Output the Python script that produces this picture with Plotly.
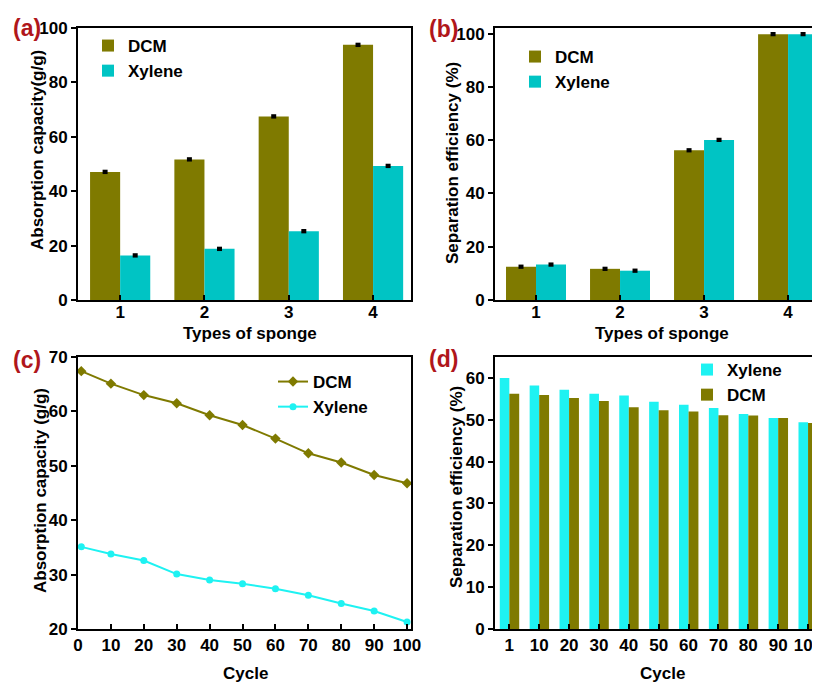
import plotly.graph_objects as go

# ---------------- data ----------------
sponge_types = [1, 2, 3, 4]
abs_dcm = [47.1, 51.7, 67.5, 93.8]
abs_xylene = [16.4, 18.8, 25.3, 49.3]
abs_err_dcm = [0.8, 0.8, 0.8, 0.8]
abs_err_xylene = [0.8, 0.8, 0.8, 0.8]

sep_dcm = [12.5, 11.7, 56.2, 99.8]
sep_xylene = [13.3, 11.0, 60.1, 99.8]
sep_err_dcm = [0.8, 0.8, 0.8, 0.8]
sep_err_xylene = [0.8, 0.8, 0.8, 0.8]

cycles_c = [1, 10, 20, 30, 40, 50, 60, 70, 80, 90, 100]
cyc_dcm = [67.4, 65.1, 63.0, 61.5, 59.3, 57.5, 55.0, 52.3, 50.6, 48.3, 46.8]
cyc_xylene = [35.1, 33.8, 32.6, 30.1, 29.0, 28.3, 27.4, 26.2, 24.7, 23.3, 21.3]

cycle_labels_d = ["1", "10", "20", "30", "40", "50", "60", "70", "80", "90", "100"]
eff_xylene = [60.0, 58.2, 57.2, 56.2, 55.8, 54.3, 53.6, 52.8, 51.4, 50.4, 49.4]
eff_dcm = [56.2, 55.9, 55.2, 54.5, 53.0, 52.3, 52.0, 51.1, 51.0, 50.4, 49.2]

# ---------------- style ----------------
OLIVE = "#7f7a00"
TEAL = "#00c4c4"
CYAN = "#1ef2f2"
RED = "#b0161b"
FONT = "Arial, Liberation Sans, sans-serif"
PAGE_OFF = 8          # default body margin of the page
FW, FH = 812, 674     # figure size so that figure + offset fills the 820x682 window

def px_x(p):
    return (p - PAGE_OFF) / FW

def px_y(p):
    return 1 - (p - PAGE_OFF) / FH

fig = go.Figure()

err_style = dict(type="data", color="black", thickness=5, width=0)

# (a)
fig.add_trace(go.Bar(x=sponge_types, y=abs_dcm, name="DCM", marker=dict(color=OLIVE, line_width=0),
                     width=0.357, offset=-0.357, error_y=dict(array=abs_err_dcm, **err_style),
                     xaxis="x", yaxis="y", legend="legend"))
fig.add_trace(go.Bar(x=sponge_types, y=abs_xylene, name="Xylene", marker=dict(color=TEAL, line_width=0),
                     width=0.357, offset=0, error_y=dict(array=abs_err_xylene, **err_style),
                     xaxis="x", yaxis="y", legend="legend"))
# (b)
fig.add_trace(go.Bar(x=sponge_types, y=sep_dcm, name="DCM", marker=dict(color=OLIVE, line_width=0),
                     width=0.357, offset=-0.357, error_y=dict(array=sep_err_dcm, **err_style),
                     xaxis="x2", yaxis="y2", legend="legend2"))
fig.add_trace(go.Bar(x=sponge_types, y=sep_xylene, name="Xylene", marker=dict(color=TEAL, line_width=0),
                     width=0.357, offset=0, error_y=dict(array=sep_err_xylene, **err_style),
                     xaxis="x2", yaxis="y2", legend="legend2"))
# (c)
fig.add_trace(go.Scatter(x=cycles_c, y=cyc_dcm, name="DCM", mode="lines+markers",
                         line=dict(color=OLIVE, width=2), marker=dict(symbol="diamond", size=8, color=OLIVE),
                         xaxis="x3", yaxis="y3", legend="legend3"))
fig.add_trace(go.Scatter(x=cycles_c, y=cyc_xylene, name="Xylene", mode="lines+markers",
                         line=dict(color=CYAN, width=2), marker=dict(symbol="circle", size=7, color=CYAN),
                         xaxis="x3", yaxis="y3", legend="legend3"))
# (d)
fig.add_trace(go.Bar(x=cycle_labels_d, y=eff_xylene, name="Xylene", marker=dict(color=CYAN, line_width=0),
                     width=0.32, offset=-0.32, xaxis="x4", yaxis="y4", legend="legend4"))
fig.add_trace(go.Bar(x=cycle_labels_d, y=eff_dcm, name="DCM", marker=dict(color=OLIVE, line_width=0),
                     width=0.33, offset=0, xaxis="x4", yaxis="y4", legend="legend4"))

tickfont = dict(family=FONT, size=17, color="black", weight="bold")
titlefont = dict(family=FONT, size=17, color="black", weight="bold")

def xax(domain, rng, anchor, **kw):
    d = dict(domain=domain, range=rng, anchor=anchor, showline=True, linecolor="black", linewidth=2,
             mirror=True, ticks="inside", ticklen=5, tickwidth=2, tickcolor="black",
             showgrid=False, zeroline=False, tickfont=tickfont, automargin=False)
    d.update(kw)
    return d

def yax(domain, rng, anchor, mirror, **kw):
    d = dict(domain=domain, range=rng, anchor=anchor, showline=True, linecolor="black", linewidth=2,
             mirror=mirror, ticks="outside", ticklen=5, tickwidth=2, tickcolor="black",
             showgrid=False, zeroline=False, tickfont=tickfont, automargin=False)
    d.update(kw)
    return d

top_ab, bot_ab = px_y(28), px_y(300)
top_cd, bot_cd = px_y(357), px_y(629)
left_ac, right_ac = px_x(78), px_x(411)
left_bd = px_x(495)

legfont = dict(family=FONT, size=17, color="black", weight="bold")

fig.update_layout(
    width=FW, height=FH, margin=dict(l=0, r=0, t=0, b=0, autoexpand=False),
    paper_bgcolor="white", plot_bgcolor="white",
    barmode="overlay",
    font=dict(family=FONT, weight="bold"),
    xaxis=xax([left_ac, right_ac], [0.5, 4.45], "y", tickvals=sponge_types, ticklabelstandoff=-4),
    yaxis=yax([bot_ab, top_ab], [0, 100], "x", True, tickvals=[0, 20, 40, 60, 80, 100]),
    xaxis2=xax([left_bd, 1.0], [0.512, 4.38], "y2", tickvals=sponge_types, ticklabelstandoff=-4),
    yaxis2=yax([bot_ab, top_ab], [0, 102.1], "x2", False, tickvals=[0, 20, 40, 60, 80, 100]),
    xaxis3=xax([left_ac, right_ac], [0, 101.2], "y3",
               tickvals=[0, 10, 20, 30, 40, 50, 60, 70, 80, 90, 100]),
    yaxis3=yax([bot_cd, top_cd], [20, 70], "x3", True, tickvals=[20, 30, 40, 50, 60, 70]),
    xaxis4=xax([left_bd, 1.0], [-0.48, 10.4], "y4", type="category"),
    yaxis4=yax([bot_cd, top_cd], [0, 65], "x4", False, tickvals=[0, 10, 20, 30, 40, 50, 60]),
    legend=dict(x=px_x(88), y=px_y(28), xanchor="left", yanchor="top", font=legfont,
                bgcolor="rgba(0,0,0,0)"),
    legend2=dict(x=px_x(515), y=px_y(39), xanchor="left", yanchor="top", font=legfont,
                 bgcolor="rgba(0,0,0,0)"),
    legend3=dict(x=px_x(273), y=px_y(364), xanchor="left", yanchor="top", font=legfont,
                 bgcolor="rgba(0,0,0,0)"),
    legend4=dict(x=px_x(687), y=px_y(352), xanchor="left", yanchor="top", font=legfont,
                 bgcolor="rgba(0,0,0,0)"),
)

# axis titles
axis_titles = [
    ("Absorption capacity(g/g)", 37, 150, -90),
    ("Separation efficiency (%)", 452, 163, -90),
    ("Absorption capacity (g/g)", 40, 491, -90),
    ("Separation efficiency (%)", 457, 487, -90),
    ("Types of sponge", 250, 333, 0),
    ("Types of sponge", 662, 333, 0),
    ("Cycle", 245, 673, 0),
    ("Cycle", 662, 673, 0),
]
for txt, cx, cy, ang in axis_titles:
    fig.add_annotation(text=txt, x=px_x(cx), y=px_y(cy), xref="paper", yref="paper",
                       xanchor="center", yanchor="middle", showarrow=False, textangle=ang,
                       font=titlefont)

labfont = dict(family=FONT, size=23, color=RED, weight="bold")
for txt, cx, cy in [("(a)", 27, 28), ("(b)", 443, 29), ("(c)", 27, 360), ("(d)", 443, 359)]:
    fig.add_annotation(text=txt, x=px_x(cx), y=px_y(cy), xref="paper", yref="paper",
                       xanchor="center", yanchor="middle", showarrow=False, font=labfont)

fig.write_html("out.html")
